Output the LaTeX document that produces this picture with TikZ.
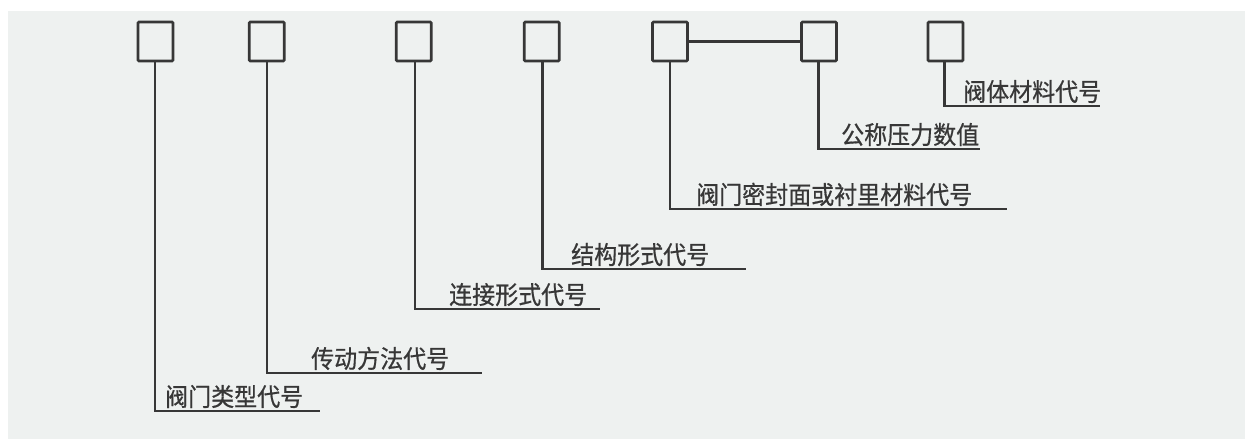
\documentclass[tikz,border=0pt]{standalone}
\usepackage{fontspec}
\newfontfamily\cjk[FakeStretch=0.92,FakeBold=0.6]{Noto Sans CJK SC}
\definecolor{bg}{RGB}{238,241,240}
\definecolor{ink}{RGB}{55,55,55}
\begin{document}
\begin{tikzpicture}[x=1pt,y=-1pt,
  cbox/.style={draw=ink,line width=2.6pt,minimum width=35pt,minimum height=39pt,inner sep=0pt,rounded corners=1pt},
  lead/.style={draw=ink,line width=2.2pt},
  lbl/.style={anchor=base west,inner sep=0pt,text=ink,font=\cjk\fontsize{25}{25}\selectfont}]
\useasboundingbox (0,0) rectangle (1245,439);
\fill[white] (0,0) rectangle (1245,439);
\fill[bg] (8,11) rectangle (1245,439);
% boxes
\node[cbox] (b1) at (155.5,41.5) {};
\node[cbox] (b2) at (266.7,41.5) {};
\node[cbox] (b3) at (413.7,41.5) {};
\node[cbox] (b4) at (541.7,41.5) {};
\node[cbox] (b5) at (670,41.5) {};
\node[cbox] (b6) at (819,41.5) {};
\node[cbox] (b7) at (945.5,41.5) {};
\draw[lead] (b5.east) -- (b6.west);
% corner coordinates
\coordinate (c1) at (155,411); \coordinate (e1) at (320,411);
\coordinate (c2) at (267,373); \coordinate (e2) at (482,373);
\coordinate (c3) at (415,309); \coordinate (e3) at (600,309);
\coordinate (c4) at (542.5,269); \coordinate (e4) at (746,269);
\coordinate (c5) at (670,209); \coordinate (e5) at (1007,209);
\coordinate (c6) at (818.5,149); \coordinate (e6) at (980,149);
\coordinate (c7) at (944.5,106); \coordinate (e7) at (1100,106);
\draw[lead] (b1.south -| c1) -- (c1) -- (e1);
\draw[lead] (b2.south -| c2) -- (c2) -- (e2);
\draw[lead] (b3.south -| c3) -- (c3) -- (e3);
\draw[lead] (b4.south -| c4) -- (c4) -- (e4);
\draw[lead] (b5.south -| c5) -- (c5) -- (e5);
\draw[lead] (b6.south -| c6) -- (c6) -- (e6);
\draw[lead] (b7.south -| c7) -- (c7) -- (e7);
% labels
\node[lbl] (t1) at (165,406) {阀门类型代号};
\node[lbl] (t2) at (311,368) {传动方法代号};
\node[lbl] (t3) at (449,304) {连接形式代号};
\node[lbl] (t4) at (571,264) {结构形式代号};
\node[lbl] (t5) at (696,204) {阀门密封面或衬里材料代号};
\node[lbl] (t6) at (841,144) {公称压力数值};
\node[lbl] (t7) at (963,101) {阀体材料代号};
\end{tikzpicture}
\end{document}
